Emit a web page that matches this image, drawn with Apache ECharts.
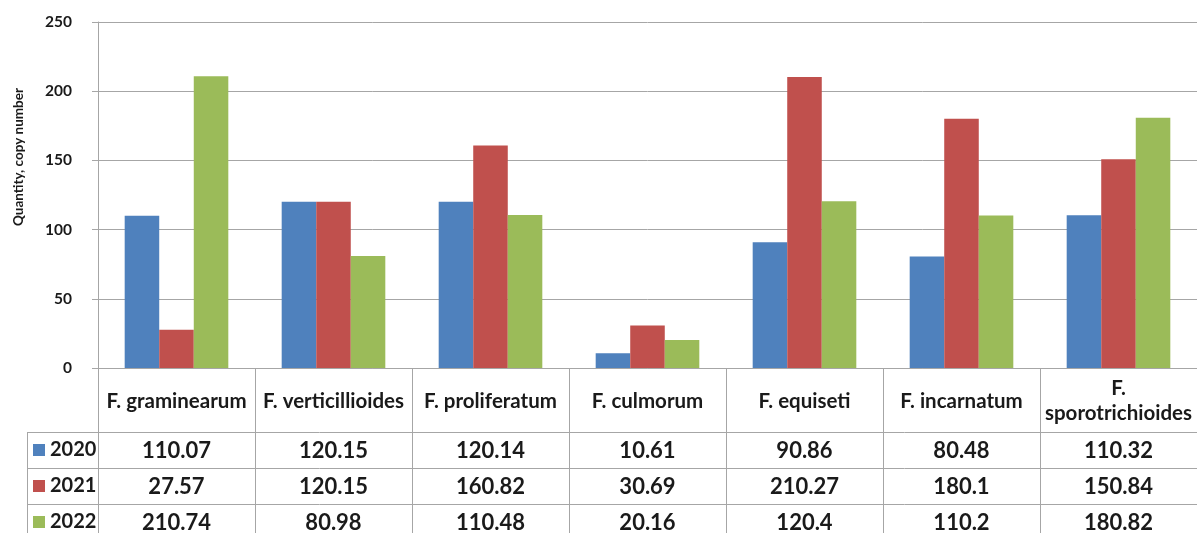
<!DOCTYPE html>
<html>
<head>
<meta charset="utf-8">
<script src="https://cdn.jsdelivr.net/npm/echarts@6/dist/echarts.min.js"></script>
<style>
  html, body { margin: 0; padding: 0; background: #ffffff; }
  #chart { width: 1197px; height: 533px; }
</style>
</head>
<body>
<div id="chart"></div>
<script>
// Fusarium species and yearly copy-number quantities
const species = ['F. graminearum', 'F. verticillioides', 'F. proliferatum', 'F. culmorum',
                 'F. equiseti', 'F. incarnatum', 'F.\nsporotrichioides'];
const years = ['2020', '2021', '2022'];
const values2020 = [110.07, 120.15, 120.14, 10.61, 90.86, 80.48, 110.32];
const values2021 = [27.57, 120.15, 160.82, 30.69, 210.27, 180.1, 150.84];
const values2022 = [210.74, 80.98, 110.48, 20.16, 120.4, 110.2, 180.82];
const yMin = 0, yMax = 250, yStep = 50;
const yAxisTitle = 'Quantity, copy number';

const seriesValues = [values2020, values2021, values2022];
const colors = ['#4f81bd', '#c0504d', '#9bbb59'];
const lineGray = '#a6a6a6';
const textColor = '#1a1a1a';
const FONT = 'Lato, "Open Sans", sans-serif';

// layout
const gridLeft = 98, gridTop = 22, plotH = 346, plotW = 1113;
const axisY = gridTop + plotH;          // y of the zero line
const catRowH = 64;                     // category-name row under the axis
const rowH = 36;                        // data-table row height
const tableTop = axisY + catRowH;
const legendColLeft = 27;
const tableFontSize = 20;

const chart = echarts.init(document.getElementById('chart'), null, { renderer: 'canvas' });

chart.setOption({
  animation: false,
  backgroundColor: '#ffffff',
  grid: { left: gridLeft, top: gridTop, width: plotW, height: plotH, containLabel: false },
  // legend keys sit in the first column of the data table, one per row
  legend: {
    data: years,
    orient: 'vertical',
    left: legendColLeft + 6,
    top: tableTop + 8,
    padding: 0,
    itemGap: rowH - 20,
    itemWidth: 12,
    itemHeight: 12,
    icon: 'rect',
    selectedMode: false,
    textStyle: { fontFamily: FONT, fontWeight: 'bold', fontSize: tableFontSize, color: textColor, lineHeight: 20 }
  },
  xAxis: {
    type: 'category',
    data: species,
    axisLine: { show: true, lineStyle: { color: lineGray, width: 1 } },
    axisTick: { show: true, interval: 0, length: 533 - axisY, lineStyle: { color: lineGray } },
    axisLabel: {
      interval: 0,
      margin: 33,
      verticalAlign: 'middle',
      fontFamily: FONT, fontWeight: 'bold', fontSize: 20.5, color: textColor, lineHeight: 25
    },
    splitLine: { show: false }
  },
  yAxis: {
    type: 'value',
    min: yMin, max: yMax, interval: yStep,
    name: yAxisTitle,
    nameLocation: 'middle',
    nameRotate: 90,
    nameGap: 72,
    nameTextStyle: { fontFamily: FONT, fontWeight: 'bold', fontSize: 13.5, color: textColor, padding: [0, 0, 0, 76] },
    axisLine: { show: true, lineStyle: { color: lineGray } },
    axisTick: { show: true, length: 6, lineStyle: { color: lineGray } },
    axisLabel: { margin: 26, fontFamily: FONT, fontWeight: 'bold', fontSize: 15.5, color: textColor },
    splitLine: { show: true, lineStyle: { color: lineGray, width: 1 } }
  },
  series: years.map((y, k) => ({
    name: y,
    type: 'bar',
    data: seriesValues[k],
    barGap: '0%',
    barCategoryGap: '34%',
    itemStyle: { color: colors[k] }
  }))
});

// data table beneath the axis: grid lines and value cells
const graphics = [];
const rightEdge = 1197;
for (let r = 0; r < years.length; r++) {
  const y = tableTop + r * rowH;
  graphics.push({
    type: 'line', silent: true,
    shape: { x1: legendColLeft, y1: y + 0.5, x2: rightEdge, y2: y + 0.5 },
    style: { stroke: lineGray, lineWidth: 1 }
  });
}
graphics.push({
  type: 'line', silent: true,
  shape: { x1: legendColLeft + 0.5, y1: tableTop, x2: legendColLeft + 0.5, y2: 533 },
  style: { stroke: lineGray, lineWidth: 1 }
});
species.forEach((s, i) => {
  const cx = chart.convertToPixel({ xAxisIndex: 0 }, i);
  seriesValues.forEach((vals, r) => {
    graphics.push({
      type: 'text', silent: true,
      x: cx, y: tableTop + r * rowH + rowH / 2 + 1,
      style: {
        text: String(vals[i]),
        align: 'center', verticalAlign: 'middle',
        font: 'bold ' + (tableFontSize + 2) + 'px ' + FONT, fill: textColor
      }
    });
  });
});
chart.setOption({ graphic: graphics });
</script>
</body>
</html>
